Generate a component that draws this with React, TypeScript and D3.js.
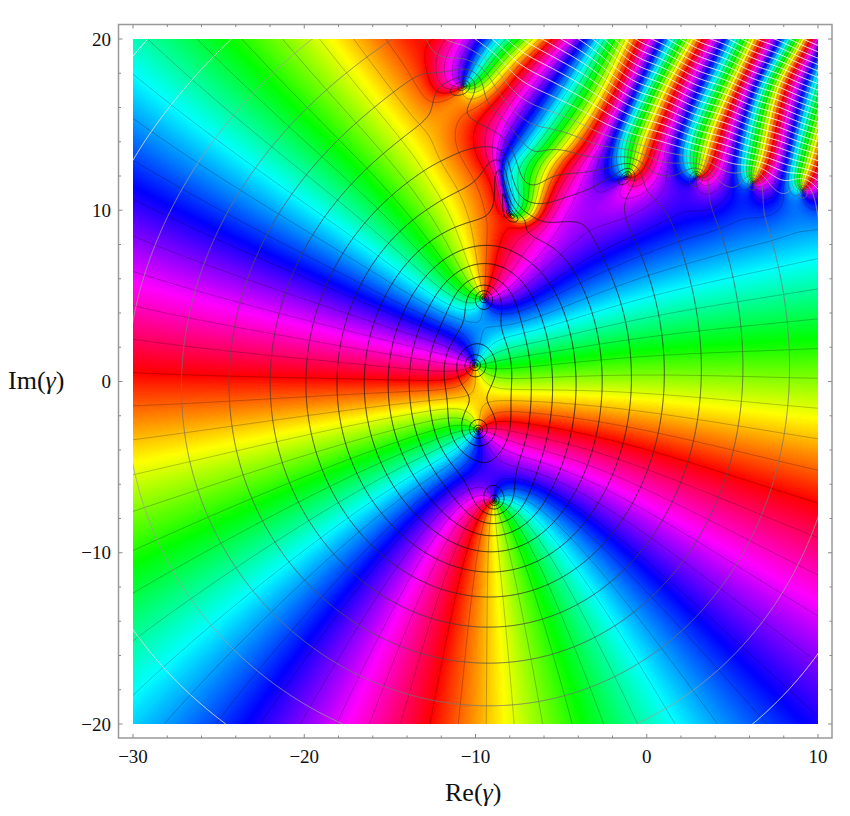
import { useMemo } from 'react';
import * as d3 from 'd3';

// zeros near the centre, plus one factor parked under the fast bands
const clusterZeros = [[-9.5, 4.88], [-10.03, 0.96], [-9.85, -2.83], [-8.9, -6.98], [-5, 18]];
const hiddenZero = [-5, 18];

// the zeros along the top, and how far each one pulls the bands towards it
const rowZeros = [[-10.6, 17.3], [-7.93, 9.78], [-1.15, 12.06], [2.93, 12.0], [6.2, 11.65], [9.1, 11.2]];
const zeroReach = [2, 2, 1.5, 1.3, 1.2, 1.2];

// [re, im, unwrapped hue in degrees] where a pure colour sits
const hueSamples = [
  [-30, 0, 0], [-30, -4.76, 60], [-30, -10, 120], [-30, -17.3, 180], [-30, 4.4, -60], [-30, 10.9, -120],
  [-30, 17.4, -180], [-30, 20, -195], [-23.6, 20, -240], [-15.9, 20, -300], [-12.1, 20, -360],
  [-30, -20, 182], [-22.6, -20, 240], [-16.9, -20, 300], [-12.48, -20, 360], [-8.45, -20, 420],
  [-4.48, -20, 480], [1.24, -20, 540], [7.6, -20, 600], [10, -20, 610],
  [10, -12.4, 660], [10, -6.6, 720], [10, -1.9, 780], [10, 2.25, 840], [10, 6.1, 900], [10, 9.5, 950],
  [-3.9, 0.85, 840], [-3.9, -0.8, 780], [-3.9, -2.7, 720], [-3.9, -4.4, 660], [-3.9, -6.5, 600], [-3.9, 2.8, 900], [-3.9, 5.2, 960],
  [-14.4, 0.1, 0], [-14.4, -1.5, 60], [-14.4, -3, 120], [-14.4, -5, 180], [-14.4, 2, -60], [-14.4, 4, -120], [-14.4, 6.1, -180],
  [-10.3, -10, 360], [-8.7, -10, 420], [-7.1, -10, 480],
  [-8, 8.3, 1080], [-6, 8.8, 1030], [-1, 10.5, 1020], [1.5, 9, 990], [4.3, 10, 960],
  [-14.4, 10, -300], [-11.5, 10, -345], [-10, 10, -360], [-11.5, 14.5, -360],
];

// [re, im, level] points on the modulus rings, level 0 is the white ring
const ringSamples = [
  [-25.33, -20, 0], [6.44, -20, 0], [-25.33, 20, 0], [-30, 14.7, 0], [-30, -14.7, 0], [10, -16.3, 0],
  [-30, -5.6, -1], [-18.9, -20, -1], [0.07, -20, -1], [9.12, -11, -1], [-28.66, 9.4, -1], [-19.1, 20, -1],
  [-27.43, 0, -2], [-23.46, -12, -2], [-9.45, -19.3, -2], [8.5, 0, -2], [0.37, -16.3, -2], [-22, 9.4, -2], [-19.1, 12.9, -2],
  [-24.74, 0, -3], [-9.45, -16.7, -3],
];

// yellow ridges of the fast bands, left to right, each as [im, re]
const yellowBands = [
  [[10, -24], [16, -17], [20, -13.4]],
  [[12, -15], [14, -12.5], [16.7, -9.85], [18.6, -8], [20, -6.53]],
  [[8, -9], [10.1, -7.2], [12.75, -5.4], [13.9, -4.48], [16.8, -2.7], [20, -1.15]],
  [[10, -1.7], [12.5, -0.8], [16.8, 0.95], [20, 2.64]],
  [[10, 2.8], [12.75, 3.3], [15.4, 4.1], [20, 6.2]],
  [[10, 6.1], [11.9, 6.5], [17, 7.6], [20, 9.12]],
  [[10, 9.1], [11.35, 9.24], [14.3, 9.94], [20, 11.6]],
  [[10, 12], [20, 14.6]],
];

// where the fast bands take over, [re, im], passing over the dip at the second top zero
const rowCurve = [
  [-16, 40], [-14, 28], [-12.4, 20], [-10.6, 17.3], [-9, 15], [-7.4, 13], [-5.5, 12.2], [-3, 12],
  [-1.15, 12.06], [0.9, 12.3], [2.93, 12], [4.6, 11.95], [6.2, 11.65], [7.7, 11.5], [9.1, 11.2], [11, 10.9],
];

// the dip itself: centre, then half widths across, upwards and downwards
const dipCentre = [-7.2, 10];
const dipWidth = [2.2, 4, 1.5];

// growth of the fast term across the row, [re, rate], from the white line spacing
const growthRate = [[-14, 0.45], [-8, 0.6], [-5.8, 0.7], [-3, 0.9], [0, 1.25], [5, 1.55], [10, 1.75]];

const xMajor = [-30, -20, -10, 0, 10];
const yMajor = [-20, -10, 0, 10, 20];
const xMinor = d3.range(-30, 10.01, 2);
const yMinor = d3.range(-20, 20.01, 2);

const PLOT_LEFT = 133;
const PLOT_TOP = 39;
const PLOT_SIZE = 685;
const PAD = 4;

const xPx = d3.scaleLinear().domain([-30, 10]).range([PLOT_LEFT, PLOT_LEFT + PLOT_SIZE]);
const yPx = d3.scaleLinear().domain([20, -20]).range([PLOT_TOP, PLOT_TOP + PLOT_SIZE]);

function solveLsq(rows: number[][], rhs: number[]) {
  const m = rows[0].length;
  const a = d3.range(m).map((i) =>
    d3.range(m + 1).map((j) => {
      let sum = 0;
      rows.forEach((row, r) => (sum += row[i] * (j === m ? rhs[r] : row[j])));
      return sum + (i === j ? 1e-8 : 0);
    })
  );
  for (let c = 0; c < m; c++) {
    let pivot = c;
    for (let r = c + 1; r < m; r++) if (Math.abs(a[r][c]) > Math.abs(a[pivot][c])) pivot = r;
    [a[c], a[pivot]] = [a[pivot], a[c]];
    for (let r = 0; r < m; r++) {
      if (r === c) continue;
      const k = a[r][c] / a[c][c];
      for (let j = c; j <= m; j++) a[r][j] -= k * a[c][j];
    }
  }
  return a.map((row, i) => row[m] / row[i]);
}

// smooth curve through the nodes, straight past both ends
function hermite(xs: number[], ys: number[]) {
  const n = xs.length;
  const slope = xs.map((_, i) => {
    if (i === 0) return (ys[1] - ys[0]) / (xs[1] - xs[0]);
    if (i === n - 1) return (ys[n - 1] - ys[n - 2]) / (xs[n - 1] - xs[n - 2]);
    return (ys[i + 1] - ys[i - 1]) / (xs[i + 1] - xs[i - 1]);
  });
  return (x: number) => {
    if (x <= xs[0]) return ys[0] + slope[0] * (x - xs[0]);
    if (x >= xs[n - 1]) return ys[n - 1] + slope[n - 1] * (x - xs[n - 1]);
    let i = 0;
    while (x > xs[i + 1]) i++;
    const h = xs[i + 1] - xs[i];
    const t = (x - xs[i]) / h;
    const t2 = t * t;
    const t3 = t2 * t;
    return (
      (2 * t3 - 3 * t2 + 1) * ys[i] +
      (t3 - 2 * t2 + t) * h * slope[i] +
      (-2 * t3 + 3 * t2) * ys[i + 1] +
      (t3 - t2) * h * slope[i + 1]
    );
  };
}

// powers of t = (z + 10) / 20, for the slow factor on the polynomial
function powers(x: number, y: number) {
  const tr = (x + 10) / 20;
  const ti = y / 20;
  const out = [[1, 0]];
  for (let j = 1; j <= 3; j++) {
    const [pr, pi] = out[j - 1];
    out.push([pr * tr - pi * ti, pr * ti + pi * tr]);
  }
  return out;
}

// arg(z - c) with the cut going straight up from c, so the samples stay on one sheet
function sheetArg(ur: number, ui: number) {
  let a = Math.atan2(-ur, ui);
  if (a < 0) a += 2 * Math.PI;
  return Math.PI / 2 + a;
}

function clusterLog(x: number, y: number) {
  let re = 0;
  let im = 0;
  clusterZeros.forEach(([cx, cy]) => {
    re += 0.5 * Math.log((x - cx) ** 2 + (y - cy) ** 2 + 1e-12);
    im += sheetArg(x - cx, y - cy);
  });
  return [re, im];
}

function fitSlowFactor() {
  const rows: number[][] = [];
  const rhs: number[] = [];
  hueSamples.forEach(([x, y, hue], index) => {
    // the last few sit close to the top zeros, they only get a light say
    const w = index >= hueSamples.length - 9 ? 0.5 : 1;
    rows.push(powers(x, y).flatMap(([pr, pi]) => [w * pi, w * pr]));
    rhs.push(w * ((hue * Math.PI) / 180 - clusterLog(x, y)[1]));
  });
  ringSamples.forEach(([x, y, level]) => {
    rows.push(powers(x, y).flatMap(([pr, pi]) => [pr, -pi]));
    rhs.push(level * Math.LN2 - clusterLog(x, y)[0]);
  });
  return solveLsq(rows, rhs);
}

function logP(x: number, y: number, k: number[]) {
  const [re, im] = clusterLog(x, y);
  let outRe = re;
  let outIm = im;
  powers(x, y).forEach(([pr, pi], j) => {
    outRe += k[2 * j] * pr - k[2 * j + 1] * pi;
    outIm += k[2 * j] * pi + k[2 * j + 1] * pr;
  });
  return [outRe, outIm];
}

function buildField() {
  const k = fitSlowFactor();
  const rowAt = hermite(rowCurve.map((d) => d[0]), rowCurve.map((d) => d[1]));
  const rateAt = hermite(growthRate.map((d) => d[0]), growthRate.map((d) => d[1]));
  const bandAt = yellowBands.map((band) => hermite(band.map((d) => d[0]), band.map((d) => d[1])));
  const bandHue = yellowBands.map((_, i) => ((60 - 360 * i) * Math.PI) / 180);
  const phaseRow = (y: number) => hermite(bandAt.map((b) => b(y)), bandHue);

  const dipShape = (x: number, y: number) => {
    const wy = y > dipCentre[1] ? dipWidth[1] : dipWidth[2];
    return Math.exp(-(((x - dipCentre[0]) / dipWidth[0]) ** 2 + ((y - dipCentre[1]) / wy) ** 2));
  };
  const baseGrowth = (x: number, y: number) => rateAt(x) * (y - rowAt(x));
  const [ex, ey] = rowZeros[1];
  const dipHeight = -baseGrowth(ex, ey) / dipShape(ex, ey);

  // nudge the bands so that each top zero lands where it was read
  const nudge = rowZeros.map(([x, y]) => {
    const diff = logP(x, y, k)[1] + Math.PI - phaseRow(y)(x);
    return diff - 2 * Math.PI * Math.round(diff / (2 * Math.PI));
  });

  const n = PLOT_SIZE + 2 * PAD;
  const modulus = new Float64Array(n * n);
  const phase = new Float64Array(n * n);
  for (let row = 0; row < n; row++) {
    const y = yPx.invert(PLOT_TOP - PAD + row + 0.5);
    const fastPhase = y > 3 ? phaseRow(y) : null;
    for (let col = 0; col < n; col++) {
      const x = xPx.invert(PLOT_LEFT - PAD + col + 0.5);
      const [pr, pi] = logP(x, y, k);
      const mag = Math.exp(pr);
      let fr = mag * Math.cos(pi);
      let fi = mag * Math.sin(pi);
      if (fastPhase) {
        const h = baseGrowth(x, y) + dipHeight * dipShape(x, y);
        if (h > -30) {
          const dist2 = (x - hiddenZero[0]) ** 2 + (y - hiddenZero[1]) ** 2 + 1e-9;
          const qMag = mag * Math.sqrt((dist2 + 9) / dist2) * Math.exp(h);
          let q = fastPhase(x);
          rowZeros.forEach(([zx, zy], i) => {
            q += nudge[i] * Math.exp(-((x - zx) ** 2 + (y - zy) ** 2) / zeroReach[i] ** 2);
          });
          fr += qMag * Math.cos(q);
          fi += qMag * Math.sin(q);
        }
      }
      const i = row * n + col;
      modulus[i] = Math.max(-80, Math.log2(Math.hypot(fr, fi) + 1e-30));
      phase[i] = Math.atan2(fi, fr);
    }
  }
  return { n, modulus, phase };
}

function buildCells(field: { n: number; phase: Float64Array }) {
  const { n, phase } = field;
  const buckets: string[][] = d3.range(240).map(() => []);
  const bucketOf = (i: number) => {
    const hue = ((phase[i] * 180) / Math.PI + 360) % 360;
    return Math.min(239, Math.floor(hue / 1.5));
  };
  for (let row = 0; row < PLOT_SIZE; row++) {
    let start = 0;
    let current = bucketOf((row + PAD) * n + PAD);
    for (let col = 1; col <= PLOT_SIZE; col++) {
      const b = col < PLOT_SIZE ? bucketOf((row + PAD) * n + PAD + col) : -1;
      if (b !== current) {
        buckets[current].push(`M${PLOT_LEFT + start} ${PLOT_TOP + row}h${col - start}v1h${start - col}z`);
        start = col;
        current = b;
      }
    }
  }
  return buckets.map((parts, b) => ({
    d: parts.join(''),
    fill: d3.hsl(b * 1.5 + 0.75, 1, 0.5).formatHex(),
  }));
}

function ringGray(level: number) {
  if (level >= 1) return 1;
  if (level === 0) return 0.9;
  return 0.62 * 0.73 ** (-level - 1);
}

function buildLines(field: { n: number; modulus: Float64Array; phase: Float64Array }) {
  const { n, modulus, phase } = field;
  const contours = d3.contours().size([n, n]).smooth(true);
  const path = d3.geoPath();
  const phaseWave = Float64Array.from(phase, (p) => Math.sin(8 * p));
  const phaseLines = path(contours.contour(phaseWave as any, 0)) || '';
  const [lo, hi] = d3.extent(modulus as any) as unknown as number[];
  const rings = d3.range(Math.max(-24, Math.ceil(lo)), Math.min(60, Math.floor(hi)) + 1).map((level) => {
    const gray = Math.round(255 * ringGray(level));
    return {
      level,
      stroke: `rgb(${gray},${gray},${gray})`,
      opacity: level >= 0 ? 1 : 0.85,
      d: path(contours.contour(modulus as any, level)) || '',
    };
  });
  return { phaseLines, rings };
}

const tickLabel = (v: number) => (v < 0 ? `\u2212${-v}` : `${v}`);

export default function App() {
  const { cells, lines } = useMemo(() => {
    const field = buildField();
    return { cells: buildCells(field), lines: buildLines(field) };
  }, []);

  const frame = { left: 118.5, right: 832, top: 24.5, bottom: 738 };
  const serif = '"Liberation Serif", serif';

  return (
    <svg
      width={850}
      height={816}
      style={{ position: 'absolute', left: 0, top: 0, background: '#fff' }}
      fontFamily={serif}
    >
      <defs>
        <clipPath id="plot-clip">
          <rect x={PLOT_LEFT} y={PLOT_TOP} width={PLOT_SIZE} height={PLOT_SIZE} />
        </clipPath>
      </defs>

      <g shapeRendering="crispEdges">
        {cells.map((cell) => (cell.d ? <path key={cell.fill} d={cell.d} fill={cell.fill} /> : null))}
      </g>

      <g clipPath="url(#plot-clip)">
        <g transform={`translate(${PLOT_LEFT - PAD},${PLOT_TOP - PAD})`} fill="none">
          <path d={lines.phaseLines} stroke="#000" strokeOpacity={0.3} strokeWidth={0.8} />
          {lines.rings.map((ring) => (
            <path key={ring.level} d={ring.d} stroke={ring.stroke} strokeOpacity={ring.opacity} strokeWidth={1} />
          ))}
        </g>
      </g>

      <rect
        x={frame.left}
        y={frame.top}
        width={frame.right - frame.left}
        height={frame.bottom - frame.top}
        fill="none"
        stroke="#999"
        strokeWidth={1.5}
      />

      <g stroke="#888" strokeWidth={1}>
        {xMinor.map((v) => {
          const len = xMajor.includes(v) ? 4 : 2.5;
          return (
            <g key={v}>
              <line x1={xPx(v)} x2={xPx(v)} y1={frame.bottom} y2={frame.bottom - len} />
              <line x1={xPx(v)} x2={xPx(v)} y1={frame.top} y2={frame.top + len} />
            </g>
          );
        })}
        {yMinor.map((v) => {
          const len = yMajor.includes(v) ? 4 : 2.5;
          return (
            <g key={v}>
              <line y1={yPx(v)} y2={yPx(v)} x1={frame.left} x2={frame.left + len} />
              <line y1={yPx(v)} y2={yPx(v)} x1={frame.right} x2={frame.right - len} />
            </g>
          );
        })}
      </g>

      <g fontSize={19} fill="#111">
        {xMajor.map((v) => (
          <text key={v} x={xPx(v)} y={763} textAnchor="middle">
            {tickLabel(v)}
          </text>
        ))}
        {yMajor.map((v) => (
          <text key={v} x={111} y={yPx(v) + 6.5} textAnchor="end">
            {tickLabel(v)}
          </text>
        ))}
      </g>

      <text x={445} y={801} fontSize={26} fill="#111">
        Re(<tspan fontStyle="italic">γ</tspan>)
      </text>
      <text x={8} y={389} fontSize={26} fill="#111">
        Im(<tspan fontStyle="italic">γ</tspan>)
      </text>
    </svg>
  );
}
